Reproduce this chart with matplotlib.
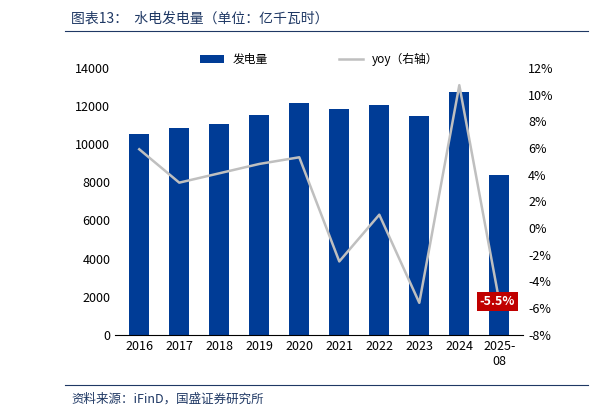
import matplotlib
matplotlib.use("Agg")
import matplotlib.pyplot as plt

plt.rcParams['font.family'] = ['Noto Sans CJK SC', 'DejaVu Sans']

categories = ["2016", "2017", "2018", "2019", "2020", "2021", "2022", "2023", "2024", "2025-\n08"]
generation = [10550, 10850, 11050, 11550, 12150, 11850, 12050, 11450, 12750, 8400]
yoy = [5.9, 3.4, 4.1, 4.8, 5.3, -2.5, 1.0, -5.6, 10.7, -5.5]

fig = plt.figure(figsize=(5.94, 4.16), dpi=100)
ax = fig.add_axes([0.194, 0.195, 0.687, 0.642])
x = range(len(categories))
ax.bar(x, generation, width=0.5, color="#003C96", label="发电量")
ax.set_ylim(0, 14000)
ax.set_yticks(range(0, 14001, 2000))
ax.set_xlim(-0.6, len(categories) - 0.4)
ax.set_xticks(list(x))
ax.set_xticklabels(categories, fontsize=9)
ax.tick_params(axis='y', labelsize=9, length=0)
ax.tick_params(axis='x', length=0)
for s in ["top", "right", "left"]:
    ax.spines[s].set_visible(False)

ax2 = ax.twinx()
ax2.plot(x, yoy, color="#BFBFBF", lw=1.8, label="yoy（右轴）")
ax2.set_ylim(-8, 12)
ax2.set_yticks(range(-8, 13, 2))
ax2.set_yticklabels([f"{v}%" for v in range(-8, 13, 2)], fontsize=9)
ax2.tick_params(axis='y', length=0)
for s in ["top", "right", "left", "bottom"]:
    ax2.spines[s].set_visible(False)
ax2.text(x[-1] - 0.05, yoy[-1], f"{yoy[-1]}%", color="white", fontsize=9, fontweight="bold",
         ha="center", va="center", bbox=dict(facecolor="#C00000", edgecolor="none", pad=2))

h1, l1 = ax.get_legend_handles_labels()
h2, l2 = ax2.get_legend_handles_labels()
ax.legend(h1 + h2, l1 + l2, loc="upper center", bbox_to_anchor=(0.5, 1.095), ncol=2,
          frameon=False, fontsize=8.5, columnspacing=6)

fig.text(0.12, 0.955, "图表13：  水电发电量（单位：亿千瓦时）", fontsize=10, style="italic",
         color="#1F3864", va="center")
fig.add_artist(plt.Line2D([0.11, 0.99], [0.925, 0.925], color="#1F3864", lw=0.8))
fig.add_artist(plt.Line2D([0.11, 0.99], [0.075, 0.075], color="#1F3864", lw=0.8))
fig.text(0.12, 0.04, "资料来源：iFinD，国盛证券研究所", fontsize=9, style="italic",
         color="#1F3864", va="center")

fig.savefig("out.png", dpi=100)
